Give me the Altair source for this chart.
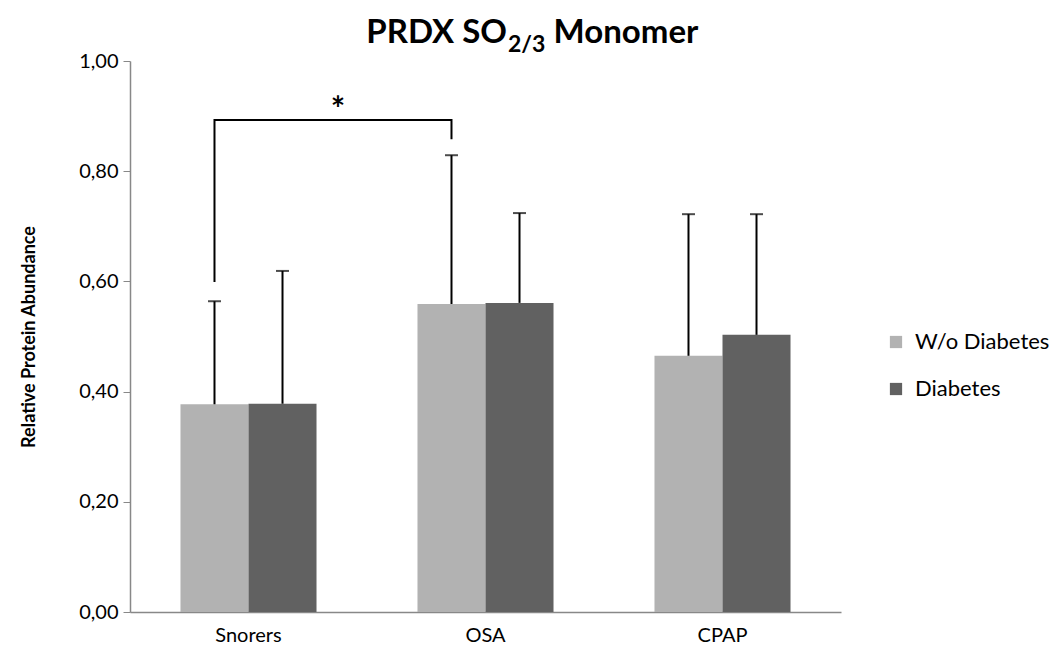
import altair as alt
import pandas as pd

groups = ["Snorers", "OSA", "CPAP"]
series = ["W/o Diabetes", "Diabetes"]
colors = ["#B2B2B2", "#616161"]

wo_means = [0.377, 0.559, 0.465]
wo_upper = [0.564, 0.829, 0.722]
d_means = [0.378, 0.561, 0.503]
d_upper = [0.619, 0.724, 0.722]

# significance bracket (Snorers W/o vs OSA W/o)
br_groups = ["Snorers", "Snorers", "OSA", "OSA"]
br_values = [0.599, 0.893, 0.893, 0.858]
star_value = 0.91

rows = []
for i, g in enumerate(groups):
    rows.append({"group": g, "series": series[0], "value": wo_means[i], "upper": wo_upper[i]})
    rows.append({"group": g, "series": series[1], "value": d_means[i], "upper": d_upper[i]})
df = pd.DataFrame(rows)

br = pd.DataFrame({"group": br_groups, "series": [series[0]] * 4,
                   "value": br_values, "k": list(range(4))})

FONT = "Lato"

xscale = alt.Scale(domain=groups, paddingInner=0.426, paddingOuter=0.213)
xoff = alt.XOffset("series:N", sort=series,
                   scale=alt.Scale(domain=series, paddingInner=0, paddingOuter=0))
yscale = alt.Scale(domain=[0, 1], nice=False)

x_enc = alt.X("group:N", sort=groups, scale=xscale,
              axis=alt.Axis(title=None, labelAngle=0, ticks=False, labelPadding=13,
                            labelFontSize=20, labelFont=FONT, labelColor="#000000",
                            domainColor="#888888", domainWidth=1.5))
y_enc = alt.Y("value:Q", scale=yscale,
              axis=alt.Axis(title="Relative Protein Abundance", values=[0, 0.2, 0.4, 0.6, 0.8, 1.0],
                            labelExpr="replace(format(datum.value, '.2f'), '.', ',')",
                            grid=False, tickSize=7, tickColor="#888888", domainColor="#888888",
                            domainWidth=1.5, labelFontSize=20, labelFont=FONT,
                            labelColor="#000000", labelPadding=5,
                            titleFont=FONT, titleFontSize=18, titleFontWeight="bold",
                            titleColor="#000000", titlePadding=40))

bars = alt.Chart(df).mark_bar().encode(
    x=x_enc,
    xOffset=xoff,
    y=y_enc,
    color=alt.Color("series:N", sort=series,
                    scale=alt.Scale(domain=series, range=colors),
                    legend=alt.Legend(title=None, orient="none", legendX=755, legendY=270,
                                      symbolType="square", symbolSize=150,
                                      symbolStrokeWidth=0, labelFontSize=22, labelFont=FONT,
                                      labelColor="#000000", rowPadding=25, labelOffset=8)),
)

err = alt.Chart(df).mark_rule(color="#000000", strokeWidth=2).encode(
    x=alt.X("group:N", sort=groups, scale=xscale),
    xOffset=xoff,
    y=alt.Y("value:Q", scale=yscale),
    y2="upper:Q",
)

caps = alt.Chart(df).mark_tick(color="#000000", thickness=2, size=13, orient="horizontal").encode(
    x=alt.X("group:N", sort=groups, scale=xscale),
    xOffset=xoff,
    y=alt.Y("upper:Q", scale=yscale),
)

bracket = alt.Chart(br).mark_line(color="#000000", strokeWidth=2).encode(
    x=alt.X("group:N", sort=groups, scale=xscale),
    xOffset=xoff,
    y=alt.Y("value:Q", scale=yscale),
    order=alt.Order("k:Q"),
)

star = alt.Chart(pd.DataFrame({"value": [star_value], "t": ["*"]})).mark_text(
    font=FONT, fontSize=34, fontWeight="bold", color="#000000", baseline="middle", align="center"
).encode(x=alt.value(208), y=alt.Y("value:Q", scale=yscale), text="t:N")

title_parts = alt.Chart(pd.DataFrame({"t": ["PRDX SO"]})).mark_text(
    font=FONT, fontSize=33, fontWeight="bold", color="#000000", align="right", baseline="alphabetic"
).encode(x=alt.value(377), y=alt.value(-18), text="t:N")
title_sub = alt.Chart(pd.DataFrame({"t": ["2/3"]})).mark_text(
    font=FONT, fontSize=23, fontWeight="bold", color="#000000", align="left", baseline="alphabetic"
).encode(x=alt.value(378), y=alt.value(-9), text="t:N")
title_end = alt.Chart(pd.DataFrame({"t": ["Monomer"]})).mark_text(
    font=FONT, fontSize=33, fontWeight="bold", color="#000000", align="center", baseline="alphabetic"
).encode(x=alt.value(496), y=alt.value(-18), text="t:N")

chart = alt.layer(bars, err, caps, bracket, star, title_parts, title_sub, title_end).properties(
    width=711, height=551,
    background="#ffffff",
    autosize=alt.AutoSizeParams(type="none"),
    padding={"left": 122, "top": 53, "right": 208, "bottom": 38},
).configure_view(strokeWidth=0)

chart.save("out.html", embed_options={"renderer": "svg", "actions": False})
